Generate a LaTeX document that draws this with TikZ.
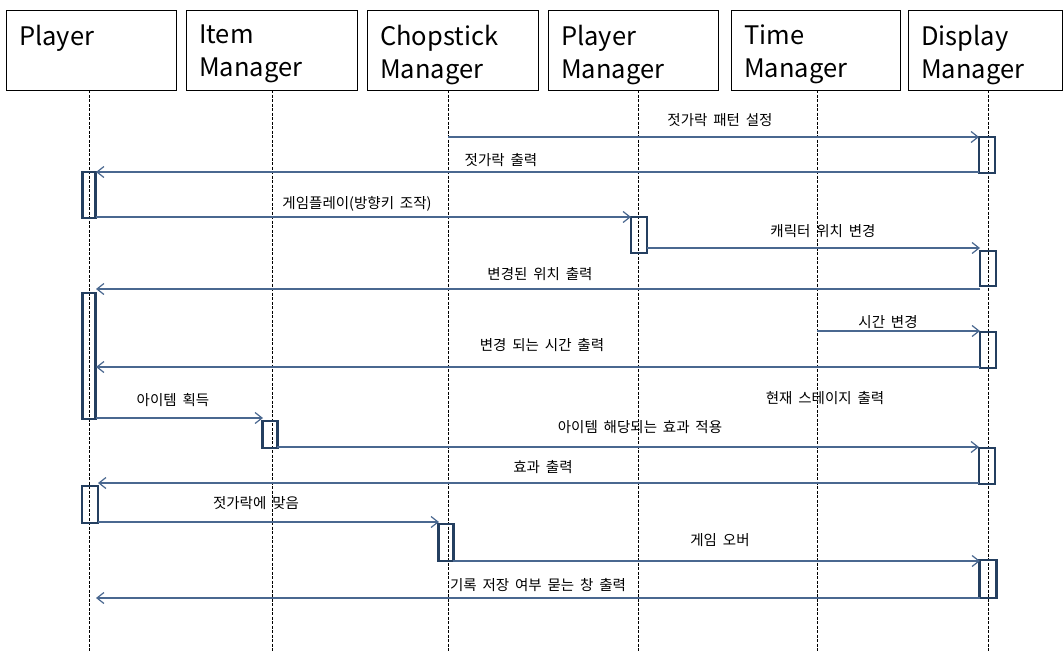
\documentclass[tikz,border=0pt]{standalone}
\usepackage{fontspec}
\setmainfont{Noto Sans CJK KR}
\newfontfamily\kfont[WordSpace=1.8]{Noto Sans CJK KR}
\usetikzlibrary{arrows.meta}
\definecolor{msgc}{HTML}{4A6890}
\definecolor{actc}{HTML}{243F60}
\tikzset{
  hdr/.style={draw=black, line width=1.1pt, anchor=north west, inner sep=0pt, minimum height=80pt},
  hdrtext/.style={anchor=north west, inner sep=0pt, align=left, font=\fontsize{25.5}{33}\selectfont},
  life/.style={draw=black, line width=0.9pt, dash pattern=on 3pt off 1.5pt},
  act/.style={draw=actc, line width=2.4pt, inner sep=0pt, anchor=north},
  msg/.style={draw=msgc, line width=1.2pt, -{Straight Barb[length=7pt,width=11pt]}},
  lbl/.style={inner sep=0pt, font=\kfont\fontsize{14.5}{16}\selectfont}
}
\begin{document}
\begin{tikzpicture}[x=1pt,y=-1pt]
\useasboundingbox[fill=white] (0,0) rectangle (1064,651);

% header boxes
\node[hdr, minimum width=170pt] (h1) at (6,10) {};
\node[hdr, minimum width=171pt] (h2) at (186,10) {};
\node[hdr, minimum width=171pt] (h3) at (367,10) {};
\node[hdr, minimum width=170pt] (h4) at (548,10) {};
\node[hdr, minimum width=169pt] (h5) at (731,10) {};
\node[hdr, minimum width=154pt] (h6) at (908,10) {};
\node[hdrtext] (t1) at ([shift={(13,15)}]h1.north west) {Player};
\node[hdrtext] (t2) at ([shift={(13,15)}]h2.north west) {Item\\Manager};
\node[hdrtext] (t3) at ([shift={(13,15)}]h3.north west) {Chopstick\\Manager};
\node[hdrtext] (t4) at ([shift={(13,15)}]h4.north west) {Player\\Manager};
\node[hdrtext] (t5) at ([shift={(13,15)}]h5.north west) {Time\\Manager};
\node[hdrtext] (t6) at ([shift={(13,15)}]h6.north west) {Display\\Manager};

% lifelines
\coordinate (L1) at (89,90);  \coordinate (B1) at (89,651);
\coordinate (L2) at (272,90); \coordinate (B2) at (272,651);
\coordinate (L3) at (448,90); \coordinate (B3) at (448,651);
\coordinate (L4) at (638,90); \coordinate (B4) at (638,651);
\coordinate (L5) at (817,90); \coordinate (B5) at (817,651);
\coordinate (L6) at (988,90); \coordinate (B6) at (988,651);
\foreach \i in {1,...,6} \draw[life] (L\i) -- (B\i);

% activation boxes
\node[act, minimum width=16pt, minimum height=36pt] (D1) at (987,136) {};
\node[act, minimum width=13pt, minimum height=46pt] (P1) at (89,171) {};
\node[act, minimum width=16pt, minimum height=36pt] (M1) at (639,216) {};
\node[act, minimum width=16pt, minimum height=35pt] (D2) at (988,250) {};
\node[act, minimum width=13pt, minimum height=126pt] (P2) at (89,292) {};
\node[act, minimum width=16pt, minimum height=36pt] (D3) at (988,331) {};
\node[act, minimum width=15pt, minimum height=27pt] (I1) at (270,420) {};
\node[act, minimum width=16pt, minimum height=36pt] (D4) at (987,447) {};
\node[act, minimum width=16pt, minimum height=37pt] (P3) at (90,485) {};
\node[act, minimum width=15pt, minimum height=37pt] (C1) at (446,523) {};
\node[act, minimum width=17pt, minimum height=38pt] (D5) at (988,559) {};

% message end points
\coordinate (s1) at (448,137);  \coordinate (e1) at (979,137);
\coordinate (s2) at (979,172);  \coordinate (e2) at (96,172);
\coordinate (s3) at (96,217);   \coordinate (e3) at (631,217);
\coordinate (s4) at (647,248);  \coordinate (e4) at (980,248);
\coordinate (s5) at (980,289);  \coordinate (e5) at (96,289);
\coordinate (s6) at (817,331);  \coordinate (e6) at (980,331);
\coordinate (s7) at (980,367);  \coordinate (e7) at (96,367);
\coordinate (s8) at (96,418);   \coordinate (e8) at (263,418);
\coordinate (s9) at (277,447);  \coordinate (e9) at (979,447);
\coordinate (s10) at (979,483); \coordinate (e10) at (98,483);
\coordinate (s11) at (98,522);  \coordinate (e11) at (439,522);
\coordinate (s12) at (453,561); \coordinate (e12) at (980,561);
\coordinate (s13) at (980,598); \coordinate (e13) at (96,598);
\foreach \i in {1,...,13} \draw[msg] (s\i) -- (e\i);

% labels
\node[lbl] (m1) at (720,120) {젓가락 패턴 설정};
\node[lbl] (m2) at (501,160) {젓가락 출력};
\node[lbl] (m3) at (357,204) {게임플레이(방향키 조작)};
\node[lbl] (m4) at (823,231) {캐릭터 위치 변경};
\node[lbl] (m5) at (540,274) {변경된 위치 출력};
\node[lbl] (m6) at (888,322) {시간 변경};
\node[lbl] (m7) at (542,345) {변경 되는 시간 출력};
\node[lbl] (m8) at (825,398) {현재 스테이지 출력};
\node[lbl] (m9) at (173,400) {아이템 획득};
\node[lbl] (m10) at (640,427) {아이템 해당되는 효과 적용};
\node[lbl] (m11) at (543,467) {효과 출력};
\node[lbl] (m12) at (256,503) {젓가락에 맞음};
\node[lbl] (m13) at (720,540) {게임 오버};
\node[lbl] (m14) at (538,585) {기록 저장 여부 묻는 창 출력};
\end{tikzpicture}
\end{document}
